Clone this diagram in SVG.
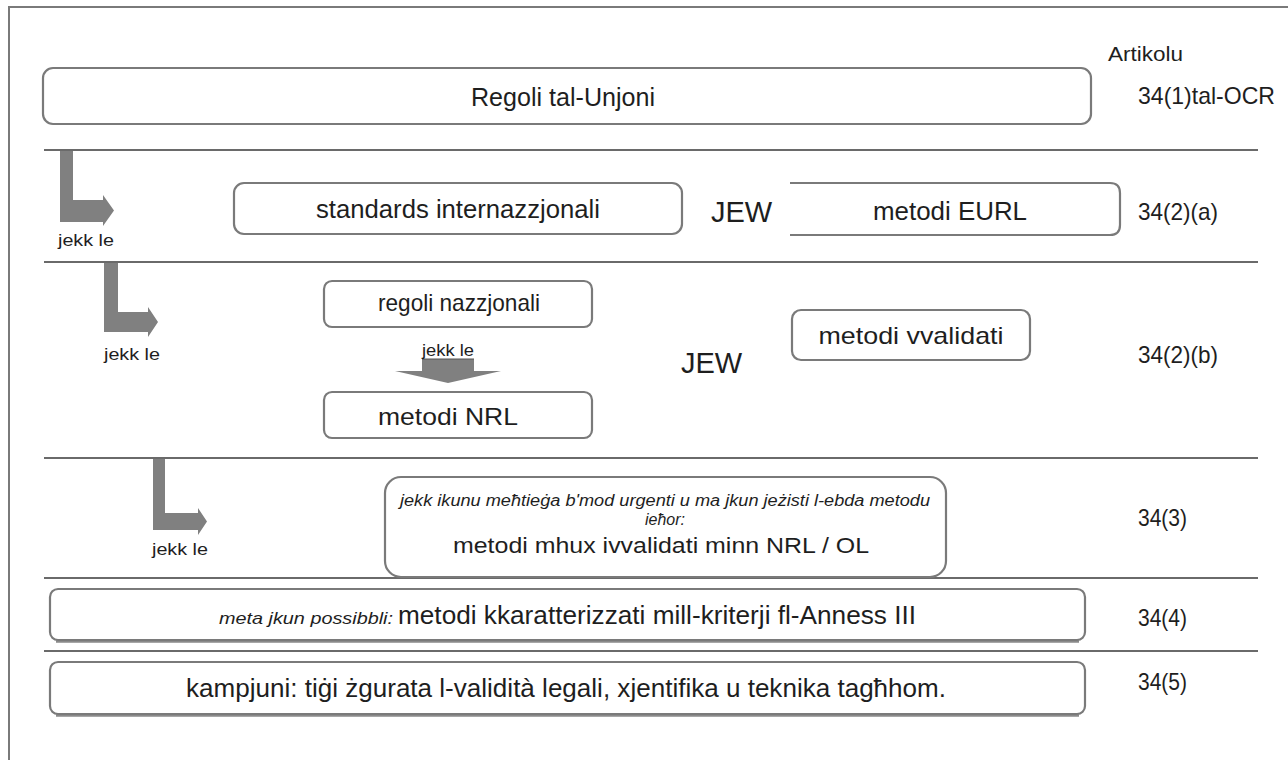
<svg xmlns="http://www.w3.org/2000/svg" width="1288" height="760" viewBox="0 0 1288 760">
<style>
  .t{font-family:"Liberation Sans",Arial,sans-serif;fill:#1e1e1e}
  .box{fill:#fff;stroke:#7a7a7a;stroke-width:2.2}
  .shadow{fill:none;stroke:#8a8a8a;stroke-width:2.5}
  .sep{stroke:#6a6a6a;stroke-width:2}
  .arr{fill:#808080}
  .lbl{font-size:24px}
  .main{font-size:25px}
  .jew{font-size:29px}
  .small{font-size:16px}
  .it{font-style:italic}
</style>
<rect x="0" y="0" width="1288" height="760" fill="#fff"/>
<g id="frame">
  <path d="M9,760 V7 H1288" fill="none" stroke="#7a7a7a" stroke-width="2"/>
</g>
<g id="separators">
  <line class="sep" x1="44" y1="150" x2="1258" y2="150"/>
  <line class="sep" x1="44" y1="262" x2="1258" y2="262"/>
  <line class="sep" x1="44" y1="458" x2="1258" y2="458"/>
  <line class="sep" x1="44" y1="578" x2="1258" y2="578"/>
  <line class="sep" x1="44" y1="651" x2="1258" y2="651"/>
</g>
<text class="t" x="1108" y="61" font-size="21" textLength="75" lengthAdjust="spacingAndGlyphs">Artikolu</text>
<g id="n-regoli-unjoni">
  <rect class="box" x="43" y="68" width="1048" height="56" rx="10"/>
  <text class="t main" x="563" y="106" text-anchor="middle" textLength="184" lengthAdjust="spacingAndGlyphs">Regoli  tal-Unjoni</text>
</g>
<text class="t lbl" x="1138" y="104" textLength="137" lengthAdjust="spacingAndGlyphs">34(1)tal-OCR</text>
<g id="connectors">
  <path class="arr" d="M60,151 H73 V200 H103 V195 L114,210.5 L103,226 V222 H60 Z"/>
  <path class="arr" d="M104,263 H118 V312 H148 V307 L158,322 L148,337 V332 H104 Z"/>
  <path class="arr" d="M153,459 H165 V513 H198 V508 L207,521.5 L198,535 V530 H153 Z"/>
  <path class="arr" d="M422,359 H474 V371 H501 L448,383 L395,371 H422 Z"/>
  <line x1="422" y1="359" x2="474" y2="359" stroke="#555" stroke-width="1"/>
</g>
<text class="t small" x="58" y="246" textLength="56" lengthAdjust="spacingAndGlyphs">jekk le</text>
<text class="t small" x="104" y="360" textLength="56" lengthAdjust="spacingAndGlyphs">jekk le</text>
<text class="t small" x="448" y="356" text-anchor="middle" textLength="52" lengthAdjust="spacingAndGlyphs">jekk le</text>
<text class="t small" x="152" y="555" textLength="56" lengthAdjust="spacingAndGlyphs">jekk le</text>
<g id="n-standards">
  <rect class="box" x="234" y="183" width="448" height="51" rx="10"/>
  <text class="t main" x="458" y="218" text-anchor="middle" textLength="284" lengthAdjust="spacingAndGlyphs">standards  internazzjonali</text>
</g>
<text class="t jew" x="711" y="222">JEW</text>
<g id="n-eurl">
  <path class="box" d="M790,183 H1110 Q1120,183 1120,193 V225 Q1120,235 1110,235 H790"/>
  <text class="t main" x="950" y="220" text-anchor="middle" textLength="154" lengthAdjust="spacingAndGlyphs">metodi  EURL</text>
</g>
<text class="t lbl" x="1138" y="220" textLength="80" lengthAdjust="spacingAndGlyphs">34(2)(a)</text>
<g id="n-regoli-nazzjonali">
  <rect class="box" x="324" y="281" width="268" height="46" rx="8"/>
  <text class="t" x="459" y="311" text-anchor="middle" font-size="24" textLength="162" lengthAdjust="spacingAndGlyphs">regoli nazzjonali</text>
</g>
<g id="n-metodi-nrl">
  <rect class="box" x="324" y="392" width="268" height="46" rx="8"/>
  <text class="t" x="448" y="425" text-anchor="middle" font-size="24" textLength="140" lengthAdjust="spacingAndGlyphs">metodi NRL</text>
</g>
<text class="t jew" x="681" y="373">JEW</text>
<g id="n-vvalidati">
  <rect class="box" x="792" y="310" width="238" height="50" rx="9"/>
  <text class="t" x="911" y="344" text-anchor="middle" font-size="24" textLength="185" lengthAdjust="spacingAndGlyphs">metodi  vvalidati</text>
</g>
<text class="t lbl" x="1138" y="363" textLength="80" lengthAdjust="spacingAndGlyphs">34(2)(b)</text>
<g id="n-mhux-ivvalidati">
  <rect class="box" x="385" y="477" width="561" height="100" rx="16"/>
  <text class="t it" x="665" y="506" text-anchor="middle" font-size="16" textLength="530" lengthAdjust="spacingAndGlyphs">jekk ikunu meħtieġa b'mod urgenti u ma jkun jeżisti l-ebda metodu</text>
  <text class="t it" x="665" y="525" text-anchor="middle" font-size="16">ieħor:</text>
  <text class="t" x="661" y="553" text-anchor="middle" font-size="22" textLength="416" lengthAdjust="spacingAndGlyphs">metodi mhux ivvalidati minn NRL / OL</text>
</g>
<text class="t lbl" x="1138" y="526" textLength="49" lengthAdjust="spacingAndGlyphs">34(3)</text>
<g id="n-kkaratterizzati">
  <path class="shadow" d="M56,641.5 H1079"/>
  <rect class="box" x="50" y="589" width="1035" height="51" rx="8"/>
  <text class="t it" x="219" y="624" font-size="17" textLength="174" lengthAdjust="spacingAndGlyphs">meta jkun possibbli:</text>
  <text class="t" x="398" y="624" font-size="25" textLength="518" lengthAdjust="spacingAndGlyphs">metodi  kkaratterizzati  mill-kriterji  fl-Anness  III</text>
</g>
<text class="t lbl" x="1138" y="626" textLength="49" lengthAdjust="spacingAndGlyphs">34(4)</text>
<g id="n-kampjuni">
  <path class="shadow" d="M56,715.5 H1079"/>
  <rect class="box" x="50" y="662" width="1035" height="52" rx="8"/>
  <text class="t" x="566" y="697" text-anchor="middle" font-size="25" textLength="760" lengthAdjust="spacingAndGlyphs">kampjuni:  tiġi żgurata l-validità legali, xjentifika u teknika tagħhom.</text>
</g>
<text class="t lbl" x="1138" y="690" textLength="49" lengthAdjust="spacingAndGlyphs">34(5)</text>
</svg>
